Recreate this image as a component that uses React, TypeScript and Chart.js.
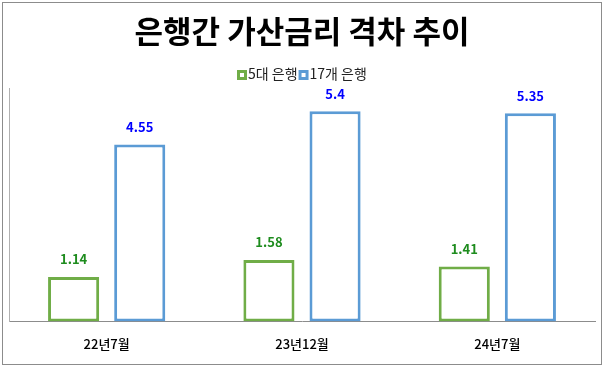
import React, { useEffect, useRef } from "react";
import { Chart, registerables } from "chart.js";

Chart.register(...registerables);

const titleText = "은행간 가산금리 격차 추이";
const categories = ["22년7월", "23년12월", "24년7월"];
const seriesNames = ["5대 은행", "17개 은행"];
const big5 = [1.14, 1.58, 1.41];
const banks17 = [4.55, 5.4, 5.35];
const big5Labels = ["1.14", "1.58", "1.41"];
const banks17Labels = ["4.55", "5.4", "5.35"];

const GREEN = "#70ad47";
const BLUE = "#5b9bd5";
const seriesColors = [GREEN, BLUE];

const FONT = "'Noto Sans CJK KR', 'Noto Sans', sans-serif";

export default function App() {
  const ref = useRef<HTMLCanvasElement | null>(null);

  useEffect(() => {
    const canvas = ref.current;
    if (!canvas) return;

    const decorPlugin = {
      id: "decor",
      beforeDraw(chart: any) {
        const ctx = chart.ctx;
        const w = chart.width;
        ctx.save();
        ctx.fillStyle = "#ffffff";
        ctx.fillRect(0, 0, w, chart.height);
        ctx.strokeStyle = "#8c8c8c";
        ctx.lineWidth = 1;
        ctx.strokeRect(2.5, 2.5, w - 5, chart.height - 5);

        // title
        ctx.fillStyle = "#000000";
        ctx.font = `bold 31px ${FONT}`;
        ctx.textAlign = "center";
        ctx.textBaseline = "middle";
        ctx.fillText(titleText, w / 2, 31);

        // legend
        ctx.font = `14px ${FONT}`;
        ctx.textAlign = "left";
        const box = 10;
        const widths = seriesNames.map((s) => ctx.measureText(s).width);
        const total = widths.reduce((a, b) => a + b, 0) + seriesNames.length * (box + 1) + 1;
        let x = Math.round(w / 2 - total / 2);
        const cy = 74;
        seriesNames.forEach((name, i) => {
          ctx.fillStyle = seriesColors[i];
          ctx.fillRect(x, cy - 4, box, box);
          ctx.fillStyle = "#ffffff";
          ctx.fillRect(x + 3, cy - 1, box - 6, box - 6);
          ctx.fillStyle = "#222222";
          ctx.textBaseline = "middle";
          ctx.fillText(name, x + box + 1, cy);
          x += box + 1 + widths[i] + 1;
        });
        ctx.restore();
      },
    };

    const valueLabels = {
      id: "valueLabels",
      afterDatasetsDraw(chart: any) {
        const ctx = chart.ctx;
        const texts = [big5Labels, banks17Labels];
        const colors = ["#1e8c1e", "#0000ff"];
        ctx.save();
        ctx.font = `bold 13px ${FONT}`;
        ctx.textAlign = "center";
        ctx.textBaseline = "bottom";
        chart.data.datasets.forEach((_: any, di: number) => {
          const meta = chart.getDatasetMeta(di);
          ctx.fillStyle = colors[di];
          meta.data.forEach((el: any, i: number) => {
            ctx.fillText(texts[di][i], el.x, el.y - 11);
          });
        });
        ctx.restore();
      },
    };

    const chart = new Chart(canvas, {
      type: "bar",
      data: {
        labels: categories,
        datasets: [
          {
            label: seriesNames[0],
            data: big5,
            backgroundColor: "#ffffff",
            borderColor: GREEN,
            borderWidth: 3,
            borderSkipped: false,
          },
          {
            label: seriesNames[1],
            data: banks17,
            backgroundColor: "#ffffff",
            borderColor: BLUE,
            borderWidth: 3,
            borderSkipped: false,
          },
        ],
      },
      options: {
        animation: false,
        responsive: false,
        maintainAspectRatio: false,
        devicePixelRatio: 1,
        layout: { padding: { left: 9, right: 9, top: 88, bottom: 0 } },
        datasets: {
          bar: { categoryPercentage: 0.677, barPercentage: 0.773 },
        },
        plugins: {
          title: { display: false },
          legend: { display: false },
          tooltip: { enabled: false },
        },
        scales: {
          x: {
            grid: { display: false, drawTicks: false },
            border: { display: true, color: "#8c8c8c", width: 1 },
            ticks: {
              color: "#000000",
              font: { family: FONT, size: 13, weight: "500" },
              padding: 15,
            },
          },
          y: {
            min: 0,
            max: 6,
            grid: { display: false, drawTicks: false },
            border: { display: true, color: "#b0b0b0", width: 1 },
            ticks: { display: false },
          },
        },
      },
      plugins: [decorPlugin, valueLabels],
    });

    return () => chart.destroy();
  }, []);

  return (
    <div style={{ position: "fixed", left: 0, top: 0, width: 604, height: 367 }}>
      <canvas ref={ref} width={604} height={367} style={{ width: 604, height: 367 }} />
    </div>
  );
}
